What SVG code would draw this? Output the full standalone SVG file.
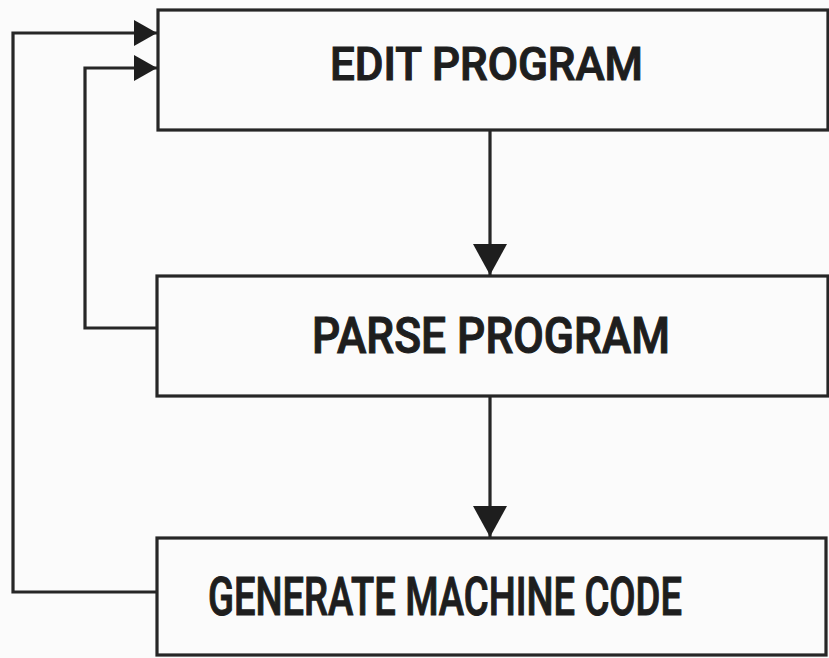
<svg xmlns="http://www.w3.org/2000/svg" width="829" height="658" viewBox="0 0 829 658">
  <style>
    .box { fill: none; stroke: #262626; stroke-width: 3.2; }
    .wire { fill: none; stroke: #262626; stroke-width: 3.2; }
    .label { font-family: Roboto, "DejaVu Sans", "Liberation Sans", sans-serif; font-weight: 500; fill: #1e1e1e; stroke: #1e1e1e; stroke-width: 1.1; }
  </style>
  <defs>
    <marker id="arrowH" markerUnits="userSpaceOnUse" markerWidth="24" markerHeight="28" refX="23" refY="13" orient="auto" viewBox="0 0 24 26">
      <path d="M0,0 L23,13 L0,26 Z" fill="#1e1e1e"/>
    </marker>
    <marker id="arrowV" markerUnits="userSpaceOnUse" markerWidth="32" markerHeight="36" refX="31" refY="17" orient="auto" viewBox="0 0 32 34">
      <path d="M0,0 L31,17 L0,34 Z" fill="#1e1e1e"/>
    </marker>
  </defs>

  <rect x="0" y="0" width="829" height="658" fill="#fbfbfb"/>

  <g id="connectors">
    <path class="wire" d="M158,592 H13 V33 H157" marker-end="url(#arrowH)"/>
    <path class="wire" d="M158,328 H85 V68 H157" marker-end="url(#arrowH)"/>
    <path class="wire" d="M490,130 V275" marker-end="url(#arrowV)"/>
    <path class="wire" d="M490,396 V537" marker-end="url(#arrowV)"/>
  </g>

  <g id="edit-program">
    <rect class="box" x="158" y="10" width="670" height="120"/>
    <text class="label" x="330" y="80" font-size="46" textLength="313" lengthAdjust="spacingAndGlyphs">EDIT PROGRAM</text>
  </g>

  <g id="parse-program">
    <rect class="box" x="157" y="276" width="671" height="120"/>
    <text class="label" x="312" y="353" font-size="50" textLength="358" lengthAdjust="spacingAndGlyphs">PARSE PROGRAM</text>
  </g>

  <g id="generate-machine-code">
    <rect class="box" x="157" y="538" width="669" height="117"/>
    <text class="label" x="208" y="615" font-size="53" textLength="474" lengthAdjust="spacingAndGlyphs">GENERATE MACHINE CODE</text>
  </g>
</svg>
